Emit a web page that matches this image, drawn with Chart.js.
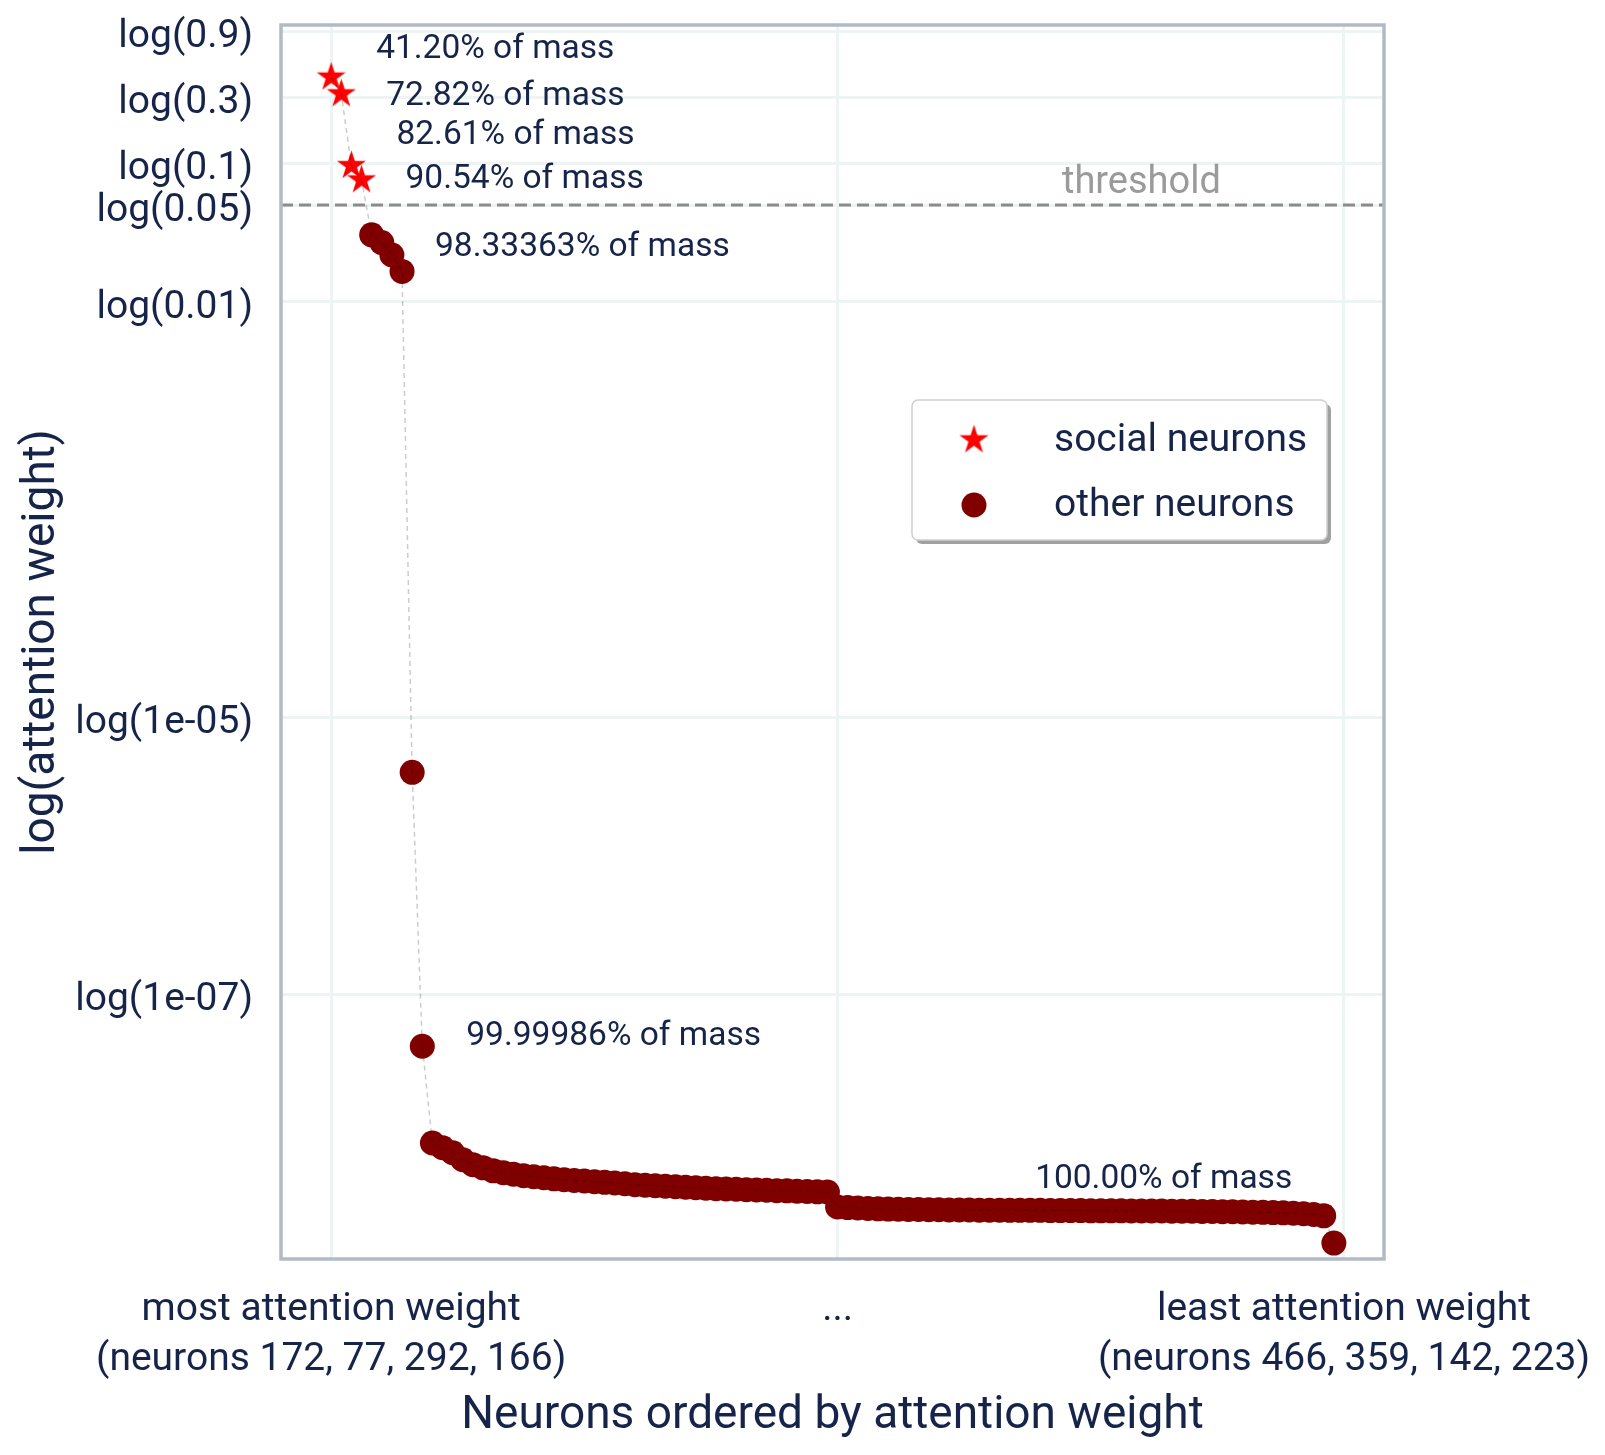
<!DOCTYPE html>
<html>
<head>
<meta charset="utf-8">
<script src="https://cdn.jsdelivr.net/npm/chart.js@4.4.1/dist/chart.umd.min.js"></script>
<style>
  html, body { margin: 0; padding: 0; background: #fff; }
  #wrap { width: 1605px; height: 1455px; }
</style>
</head>
<body>
<div id="wrap"><canvas id="attnChart" width="1605" height="1455"></canvas></div>
<script>
// attention weight per neuron, sorted from most to least
const weights = [
  0.420, 0.318, 0.0964, 0.0760, 0.0305, 0.0268, 0.0218, 0.0166, 4.0e-6, 4.2e-8,
  8.4e-9, 7.76e-9, 7.14e-9, 6.36e-9, 5.85e-9, 5.56e-9, 5.29e-9, 5.12e-9, 5.00e-9, 4.88e-9,
  4.79e-9, 4.71e-9, 4.63e-9, 4.56e-9, 4.51e-9, 4.47e-9, 4.41e-9, 4.37e-9, 4.32e-9, 4.27e-9,
  4.20e-9, 4.16e-9, 4.13e-9, 4.09e-9, 4.06e-9, 4.03e-9, 3.99e-9, 3.96e-9, 3.93e-9, 3.91e-9,
  3.89e-9, 3.86e-9, 3.85e-9, 3.83e-9, 3.80e-9, 3.79e-9, 3.77e-9, 3.75e-9, 3.73e-9, 3.72e-9,
  2.90e-9, 2.87e-9, 2.85e-9, 2.83e-9, 2.81e-9, 2.80e-9, 2.79e-9, 2.78e-9, 2.78e-9, 2.77e-9,
  2.77e-9, 2.76e-9, 2.76e-9, 2.76e-9, 2.75e-9, 2.75e-9, 2.75e-9, 2.74e-9, 2.74e-9, 2.74e-9,
  2.74e-9, 2.73e-9, 2.73e-9, 2.73e-9, 2.73e-9, 2.72e-9, 2.72e-9, 2.72e-9, 2.72e-9, 2.71e-9,
  2.71e-9, 2.71e-9, 2.71e-9, 2.70e-9, 2.70e-9, 2.70e-9, 2.69e-9, 2.69e-9, 2.68e-9, 2.68e-9,
  2.67e-9, 2.66e-9, 2.65e-9, 2.64e-9, 2.63e-9, 2.61e-9, 2.59e-9, 2.56e-9, 2.50e-9, 1.59e-9
];
const socialCount = 4; // first four are the social neurons
const threshold = 0.05;

const xTickValues = [0, 50, 100];
const xTickLabels = [
  ["most attention weight", "(neurons 172, 77, 292, 166)"],
  "...",
  ["least attention weight", "(neurons 466, 359, 142, 223)"]
];
const yTickValues = [0.9, 0.3, 0.1, 0.05, 0.01, 1e-5, 1e-7];
const yTickLabels = ["log(0.9)", "log(0.3)", "log(0.1)", "log(0.05)", "log(0.01)", "log(1e-05)", "log(1e-07)"];

const massLabels = ["41.20% of mass", "72.82% of mass", "82.61% of mass", "90.54% of mass",
                    "98.33363% of mass", "99.99986% of mass", "100.00% of mass"];
const massAnchor = [0, 1, 2, 3, 7, 9, 70];
// pixel offsets of each label from its anchor point
const massOffset = [[45, -28], [45, 3], [45, -30], [44, 0], [33, -24], [44, -10], [-5, -31]];

const TEXT = "#16244a";
const FONT = "Roboto";

function makeStar(R, color) {
  const size = Math.ceil(2 * R + 4);
  const c = document.createElement("canvas");
  c.width = size; c.height = size;
  const g = c.getContext("2d");
  const cx = size / 2, cy = size / 2, r = R * 0.382;
  g.beginPath();
  for (let k = 0; k < 10; k++) {
    const rad = k % 2 === 0 ? R : r;
    const a = -Math.PI / 2 + k * Math.PI / 5;
    g.lineTo(cx + rad * Math.cos(a), cy + rad * Math.sin(a));
  }
  g.closePath();
  g.fillStyle = color;
  g.fill();
  return c;
}
const starImg = makeStar(15.3, "#ff0000");

const allPts = weights.map((w, i) => ({ x: i, y: w }));
const socialPts = allPts.slice(0, socialCount);
const otherPts = allPts.slice(socialCount);

const X_MIN = -4.95, X_MAX = 103.95;

// box around the plot, legend, annotations
const decorPlugin = {
  id: "decor",
  afterDraw(chart) {
    const { ctx, chartArea: a, scales: { x, y } } = chart;
    ctx.save();
    ctx.strokeStyle = "#b2bac6";
    ctx.lineWidth = 3.5;
    ctx.strokeRect(a.left, a.top, a.right - a.left, a.bottom - a.top);

    // mass annotations
    ctx.font = "33.5px " + FONT;
    ctx.fillStyle = TEXT;
    ctx.textBaseline = "middle";
    ctx.textAlign = "left";
    massLabels.forEach((t, i) => {
      const k = massAnchor[i];
      ctx.fillText(t, x.getPixelForValue(k) + massOffset[i][0], y.getPixelForValue(weights[k]) + massOffset[i][1]);
    });

    // threshold label
    ctx.font = "38px " + FONT;
    ctx.fillStyle = "#9a9a9a";
    ctx.textAlign = "center";
    ctx.fillText("threshold", x.getPixelForValue(80), y.getPixelForValue(threshold) - 22);

    // legend
    const lx = 912, ly = 400, lw = 415, lh = 140;
    ctx.fillStyle = "rgba(120,120,120,0.7)";
    ctx.beginPath(); ctx.roundRect(lx + 4, ly + 4, lw, lh, 6); ctx.fill();
    ctx.fillStyle = "#fff";
    ctx.strokeStyle = "#cfcfcf";
    ctx.lineWidth = 1.5;
    ctx.beginPath(); ctx.roundRect(lx, ly, lw, lh, 6); ctx.fill(); ctx.stroke();

    const ds = chart.data.datasets;
    ctx.drawImage(starImg, 974 - starImg.width / 2, 440 - starImg.height / 2);
    ctx.fillStyle = "#800000";
    ctx.beginPath(); ctx.arc(974, 505, 12.5, 0, Math.PI * 2); ctx.fill();
    ctx.font = "39px " + FONT;
    ctx.fillStyle = TEXT;
    ctx.textAlign = "left";
    ctx.fillText(ds[1].label, 1054, 441);
    ctx.fillText(ds[2].label, 1054, 506);
    ctx.restore();
  }
};

new Chart(document.getElementById("attnChart"), {
  type: "scatter",
  data: {
    datasets: [
      {
        label: "trend",
        data: allPts,
        showLine: true,
        borderColor: "rgba(0,0,0,0.2)",
        borderWidth: 1.5,
        borderDash: [5, 4],
        pointRadius: 0,
        order: 0
      },
      {
        label: "social neurons",
        data: socialPts,
        pointStyle: starImg,
        pointRadius: 15,
        backgroundColor: "#ff0000",
        order: 1
      },
      {
        label: "other neurons",
        data: otherPts,
        pointStyle: "circle",
        pointRadius: 12.5,
        borderWidth: 0,
        backgroundColor: "#800000",
        order: 2
      },
      {
        label: "threshold",
        data: [{ x: X_MIN, y: threshold }, { x: X_MAX, y: threshold }],
        showLine: true,
        borderColor: "#8c8c8c",
        borderWidth: 3,
        borderDash: [12, 6],
        pointRadius: 0,
        order: 3
      }
    ]
  },
  options: {
    responsive: false,
    devicePixelRatio: 1,
    animation: false,
    events: [],
    layout: { padding: { left: 0, top: 25, right: 221, bottom: 0 } },
    plugins: { legend: { display: false }, tooltip: { enabled: false } },
    scales: {
      x: {
        type: "linear",
        min: X_MIN,
        max: X_MAX,
        afterBuildTicks: s => { s.ticks = xTickValues.map(v => ({ value: v })); },
        afterFit: s => { s.height = 196; s.paddingLeft = 0; s.paddingRight = 0; },
        ticks: {
          autoSkip: false,
          maxRotation: 0,
          padding: 26,
          color: TEXT,
          font: { family: FONT, size: 39, lineHeight: 1.28 },
          callback: (v, i) => xTickLabels[i]
        },
        grid: { color: "#eef3f3", lineWidth: 3, drawTicks: false },
        border: { display: false },
        title: {
          display: true,
          text: "Neurons ordered by attention weight",
          color: TEXT,
          font: { family: FONT, size: 46 },
          padding: { top: 0, bottom: 11 }
        }
      },
      y: {
        type: "logarithmic",
        min: 1.22e-9,
        max: 1,
        afterBuildTicks: s => { s.ticks = yTickValues.map(v => ({ value: v })); },
        afterFit: s => { s.width = 281; s.paddingTop = 0; s.paddingBottom = 0; },
        ticks: {
          autoSkip: false,
          padding: 28,
          labelOffset: 6,
          color: TEXT,
          font: { family: FONT, size: 39 },
          callback: (v, i) => yTickLabels[i]
        },
        grid: { color: "#eef3f3", lineWidth: 3, drawTicks: false },
        border: { display: false },
        title: {
          display: true,
          text: "log(attention weight)",
          color: TEXT,
          font: { family: FONT, size: 46 },
          padding: { top: 15, bottom: 0 }
        }
      }
    }
  },
  plugins: [decorPlugin]
});
</script>
</body>
</html>
